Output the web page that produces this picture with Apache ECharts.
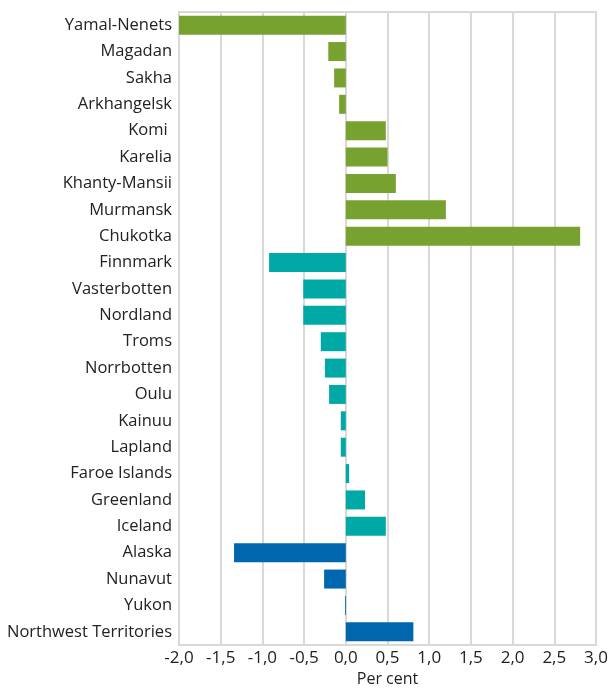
<!DOCTYPE html>
<html>
<head>
<meta charset="utf-8">
<script src="https://cdn.jsdelivr.net/npm/echarts@6/dist/echarts.min.js"></script>
<style>
  html, body { margin: 0; padding: 0; background: #fff; }
  #chart { width: 608px; height: 689px; }
</style>
</head>
<body>
<div id="chart"></div>
<script>
const regions = [
  'Yamal-Nenets', 'Magadan', 'Sakha', 'Arkhangelsk', 'Komi ', 'Karelia',
  'Khanty-Mansii', 'Murmansk', 'Chukotka', 'Finnmark', 'Vasterbotten',
  'Nordland', 'Troms', 'Norrbotten', 'Oulu', 'Kainuu', 'Lapland',
  'Faroe Islands', 'Greenland', 'Iceland', 'Alaska', 'Nunavut', 'Yukon',
  'Northwest Territories'
];
const values = [
  -2.0, -0.21, -0.14, -0.08, 0.48, 0.50,
  0.60, 1.20, 2.81, -0.92, -0.51,
  -0.51, -0.30, -0.25, -0.20, -0.06, -0.06,
  0.04, 0.23, 0.48, -1.34, -0.26, -0.01,
  0.81
];
// 0 = Russia, 1 = Nordic, 2 = North America
const groups = [
  0, 0, 0, 0, 0, 0, 0, 0, 0,
  1, 1, 1, 1, 1, 1, 1, 1, 1, 1, 1,
  2, 2, 2, 2
];
const groupColors = ['#78a22f', '#00a9a6', '#0066ae'];
const xTicks = { min: -2, max: 3, interval: 0.5 };

const chart = echarts.init(document.getElementById('chart'));

const fontFamily = '"Open Sans", "Noto Sans", sans-serif';

chart.setOption({
  animation: false,
  grid: {
    left: 179, right: 12, top: 12, bottom: 44,
    outerBoundsMode: 'none',
    show: true, borderColor: '#d9d9d9', borderWidth: 2
  },
  xAxis: {
    type: 'value',
    min: xTicks.min, max: xTicks.max, interval: xTicks.interval,
    axisLine: { show: false },
    axisTick: { show: false },
    splitLine: { show: true, lineStyle: { color: '#d9d9d9', width: 2 } },
    axisLabel: {
      color: '#222', fontSize: 17, fontFamily: fontFamily, margin: 5,
      formatter: v => v.toFixed(1).replace('.', ',')
    },
    name: 'Per cent',
    nameLocation: 'middle',
    nameGap: 23,
    nameTextStyle: { color: '#222', fontSize: 16, fontFamily: fontFamily }
  },
  yAxis: {
    type: 'category',
    data: regions,
    inverse: true,
    axisLine: { show: false },
    axisTick: { show: false },
    axisLabel: { color: '#222', fontSize: 16.5, fontFamily: fontFamily, margin: 7 }
  },
  series: [{
    type: 'bar',
    barCategoryGap: '28%',
    data: values.map((v, i) => ({
      value: v,
      itemStyle: { color: groupColors[groups[i]] }
    }))
  }]
});
</script>
</body>
</html>
